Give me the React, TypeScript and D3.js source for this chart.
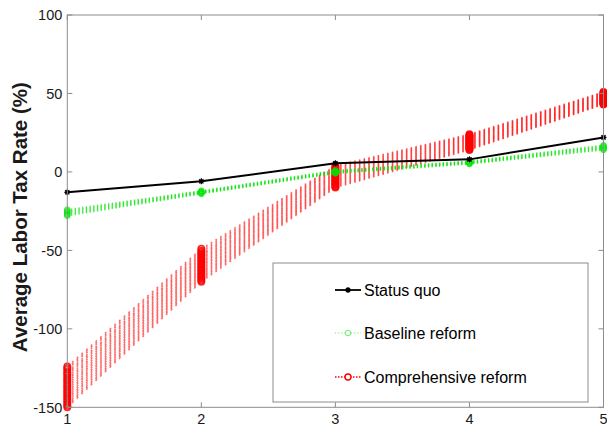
import React from "react";
import * as d3 from "d3";

// x positions (income groups)
const xValues = [1, 2, 3, 4, 5];
const xTicks = [1, 2, 3, 4, 5];
const yTicks = [-150, -100, -50, 0, 50, 100];

// status quo
const statusQuo = [-13, -6, 5.5, 8, 22];

// baseline reform, one row per parameter run
const baselineRuns = [
  [-24, -12, 1, 7, 17],
  [-24.6, -12.3, 0.7, 6.7, 16.6],
  [-25.1, -12.6, 0.4, 6.4, 16.1],
  [-25.7, -12.9, 0.1, 6.1, 15.7],
  [-26.3, -13.1, -0.2, 5.9, 15.3],
  [-26.9, -13.4, -0.4, 5.6, 14.9],
  [-27.4, -13.7, -0.7, 5.3, 14.4],
  [-28, -14, -1, 5, 14],
];

// comprehensive reform, one row per parameter run
const compRuns = [
  [-124, -49, 4, 24, 51],
  [-125, -50, 3.4, 23.6, 50.6],
  [-126, -51, 2.8, 23.1, 50.3],
  [-127.5, -52, 2.2, 22.7, 49.9],
  [-128.5, -52.8, 1.6, 22.3, 49.6],
  [-129.5, -53.7, 1, 21.8, 49.2],
  [-130.8, -54.6, 0.4, 21.4, 48.9],
  [-132, -55.5, -0.3, 21, 48.5],
  [-133, -56.4, -0.9, 20.5, 48.2],
  [-134.2, -57.3, -1.5, 20.1, 47.8],
  [-135.4, -58.2, -2.1, 19.7, 47.5],
  [-136.5, -59.1, -2.7, 19.2, 47.1],
  [-137.6, -60, -3.3, 18.8, 46.8],
  [-138.8, -60.9, -3.9, 18.4, 46.4],
  [-140, -61.8, -4.6, 17.9, 46.1],
  [-141, -62.7, -5.2, 17.5, 45.7],
  [-142.2, -63.6, -5.8, 17.1, 45.4],
  [-143.4, -64.5, -6.4, 16.6, 45],
  [-144.5, -65.4, -7, 16.2, 44.7],
  [-145.6, -66.3, -7.6, 15.8, 44.3],
  [-146.8, -67.2, -8.2, 15.3, 44],
  [-148, -68.1, -8.8, 14.9, 43.6],
  [-149, -69, -9.4, 14.4, 43.3],
  [-150, -70, -10, 14, 43],
];

const legendLabels = ["Status quo", "Baseline reform", "Comprehensive reform"];

const W = 607;
const H = 428;
const left = 67.3;
const right = 603.5;
const top = 15;
const bottom = 407.3;

const RED = "#ff0000";
const GREEN = "#00e600";
const AXIS = "#8c8c8c";
const FONT = "'Liberation Sans', Arial, Helvetica, sans-serif";

function Star({ cx, cy }: { cx: number; cy: number }) {
  const r = 3;
  return (
    <g stroke="#000" strokeWidth={1.2}>
      <circle cx={cx} cy={cy} r={2.2} fill="#000" stroke="none" />
      <line x1={cx - r} y1={cy} x2={cx + r} y2={cy} />
      <line x1={cx} y1={cy - r} x2={cx} y2={cy + r} />
      <line x1={cx - r * 0.7} y1={cy - r * 0.7} x2={cx + r * 0.7} y2={cy + r * 0.7} />
      <line x1={cx - r * 0.7} y1={cy + r * 0.7} x2={cx + r * 0.7} y2={cy - r * 0.7} />
    </g>
  );
}

export default function App() {
  const x = d3.scaleLinear().domain([1, 5]).range([left, right]);
  const y = d3.scaleLinear().domain([-150, 100]).range([bottom, top]);

  const seg = d3
    .line<[number, number]>()
    .x((d) => x(d[0]))
    .y((d) => y(d[1]));

  // dotted segments: dash pattern measured along x so the dots of all runs line up (like matlab's hatching)
  const dotted = (s: number[], color: string, w: number, dash: string, op: number, key: string) =>
    s.slice(0, -1).map((v, i) => {
      const p: [number, number][] = [
        [xValues[i], v],
        [xValues[i + 1], s[i + 1]],
      ];
      return (
        <path
          key={key + i}
          d={seg(p) || ""}
          pathLength={x(xValues[i + 1]) - x(xValues[i])}
          fill="none"
          stroke={color}
          strokeWidth={w}
          strokeDasharray={dash}
          strokeOpacity={op}
        />
      );
    });

  const lg = { x0: 273, y0: 263, x1: 588, y1: 402 };
  const rowY = [290, 333, 377];
  const sx0 = 335;
  const sx1 = 361;
  const tx = 364;

  return (
    <svg
      width={W}
      height={H}
      style={{ position: "absolute", left: 0, top: 0, background: "#fff" }}
      fontFamily={FONT}
    >
      <rect x={0} y={0} width={W} height={H} fill="#fff" />

      {/* comprehensive reform runs */}
      {compRuns.map((s, k) => (
        <g key={"c" + k}>
          {dotted(s, RED, 1.5, "1.5 3.2", 0.55, "c" + k)}
          {s.map((v, i) => (
            <circle key={i} cx={x(xValues[i])} cy={y(v)} r={3.2} fill="none" stroke={RED} strokeWidth={1.5} strokeOpacity={0.85} />
          ))}
        </g>
      ))}

      {/* baseline reform runs */}
      {baselineRuns.map((s, k) => (
        <g key={"b" + k}>
          {dotted(s, GREEN, 1.4, "1.3 2.4", 0.6, "b" + k)}
          {s.map((v, i) => (
            <circle key={i} cx={x(xValues[i])} cy={y(v)} r={2.8} fill="none" stroke={GREEN} strokeWidth={1} strokeOpacity={0.7} />
          ))}
        </g>
      ))}

      {/* status quo */}
      <path d={seg(statusQuo.map((v, i) => [xValues[i], v] as [number, number])) || ""} fill="none" stroke="#000" strokeWidth={2} />
      {statusQuo.map((v, i) => (
        <Star key={i} cx={x(xValues[i])} cy={y(v)} />
      ))}

      {/* axes box */}
      <rect x={left} y={top} width={right - left} height={bottom - top} fill="none" stroke={AXIS} strokeWidth={1} />
      {xTicks.map((t) => (
        <g key={"xt" + t}>
          <line x1={x(t)} x2={x(t)} y1={bottom} y2={bottom - 5} stroke={AXIS} />
          <line x1={x(t)} x2={x(t)} y1={top} y2={top + 5} stroke={AXIS} />
          <text x={x(t)} y={bottom + 17} textAnchor="middle" fontSize={14.5} fill="#1a1a1a">
            {t}
          </text>
        </g>
      ))}
      {yTicks.map((t) => (
        <g key={"yt" + t}>
          <line x1={left} x2={left + 5} y1={y(t)} y2={y(t)} stroke={AXIS} />
          <line x1={right} x2={right - 5} y1={y(t)} y2={y(t)} stroke={AXIS} />
          <text x={left - 5} y={y(t)} dy="0.36em" textAnchor="end" fontSize={14.5} fill="#1a1a1a">
            {t}
          </text>
        </g>
      ))}

      <text
        transform={`translate(27, ${(top + bottom) / 2 + 6}) rotate(-90)`}
        textAnchor="middle"
        fontSize={20.5}
        fontWeight="bold"
        fill="#1a1a1a"
      >
        Average Labor Tax Rate (%)
      </text>

      {/* legend */}
      <rect x={lg.x0} y={lg.y0} width={lg.x1 - lg.x0} height={lg.y1 - lg.y0} fill="#fff" stroke={AXIS} strokeWidth={1} />
      <line x1={sx0} x2={sx1} y1={rowY[0]} y2={rowY[0]} stroke="#000" strokeWidth={1.8} />
      <Star cx={(sx0 + sx1) / 2} cy={rowY[0]} />
      <line x1={sx0} x2={sx1} y1={rowY[1]} y2={rowY[1]} stroke={GREEN} strokeWidth={1.2} strokeDasharray="1.2 2" strokeOpacity={0.6} />
      <circle cx={(sx0 + sx1) / 2} cy={rowY[1]} r={2.8} fill="#fff" stroke={GREEN} strokeOpacity={0.6} strokeWidth={1} />
      <line x1={sx0} x2={sx1} y1={rowY[2]} y2={rowY[2]} stroke={RED} strokeWidth={1.5} strokeDasharray="1.5 1.5" />
      <circle cx={(sx0 + sx1) / 2} cy={rowY[2]} r={3} fill="#fff" stroke={RED} strokeWidth={1.4} />
      {legendLabels.map((l, i) => (
        <text key={l} x={tx} y={rowY[i]} dy="0.36em" fontSize={16} fill="#000">
          {l}
        </text>
      ))}
    </svg>
  );
}
